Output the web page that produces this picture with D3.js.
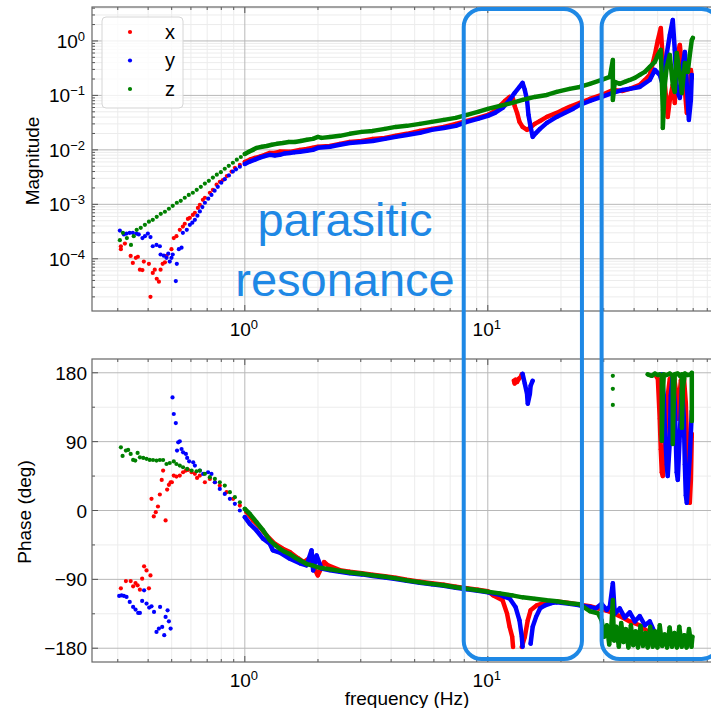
<html>
<head>
<title>Transfer function</title>
<script src="https://d3js.org/d3.v7.min.js"></script>
<style>
body { margin: 0; background: #fff; }
text { font-family: "Liberation Sans", Arial, sans-serif; fill: #000; }
</style>
</head>
<body>
<script>
// values, [frequency (Hz), value]
var magX = [[0.309,1.7e-4],[0.309,1.5e-4],[0.321,1.9e-4],[0.339,1.13e-4],[0.346,8.4e-5],[0.356,1.04e-4],[0.363,1.09e-4],[0.370,6.3e-5],[0.379,6.2e-5],[0.384,8.9e-5],[0.403,8.1e-5],[0.409,2.0e-5],[0.418,5.5e-5],[0.426,6.3e-5],[0.434,4.3e-5],[0.443,3.8e-5],[0.450,6.3e-5],[0.459,8.1e-5],[0.469,8.6e-5],[0.476,1.13e-4],[0.499,1.5e-4],[0.510,2.4e-4],[0.523,2.6e-4],[0.540,3.4e-4],[0.556,3.9e-4],[0.566,4.4e-4],[0.583,5.4e-4],[0.594,5.65e-4],[0.611,6.4e-4],[0.623,7.0e-4],[0.641,8.6e-4],[0.653,9.8e-4],[0.672,1.21e-3],[0.685,1.32e-3],[0.718,1.63e-3],[0.739,1.85e-3],[0.765,2.3e-3],[0.789,2.6e-3],[0.812,2.8e-3],[0.843,3.3e-3],[0.882,4.0e-3],[0.910,4.7e-3],[0.954,5.3e-3],[1.0,6.0e-3],[1.048,6.6e-3],[1.10,7.1e-3],[1.153,7.5e-3],[1.209,8.1e-3],[1.267,8.8e-3],[1.329,8.8e-3],[1.393,9.3e-3],[1.532,9.2e-3],[1.684,0.0100],[1.80,0.0104],[1.905,0.0109],[2.0,0.0114],[2.24,0.0118],[2.46,0.0129],[2.70,0.0140],[3.03,0.0146],[3.36,0.0159],[3.77,0.0166],[4.18,0.0181],[4.64,0.0197],[5.25,0.0223],[5.88,0.0243],[6.59,0.0264],[7.38,0.030],[8.2,0.034],[9.1,0.0387],[10.0,0.0439],[10.7,0.052],[11.2,0.064],[11.75,0.079],[12.3,0.094],[12.7,0.086],[12.9,0.064],[13.2,0.0477],[13.5,0.0327],[13.9,0.0264],[14.5,0.0233],[14.9,0.0253],[15.6,0.030],[16.4,0.034],[17.5,0.0403],[19.2,0.0477],[20.4,0.0542],[21.7,0.0615],[23.9,0.0728],[26.3,0.086],[29.4,0.102],[32.7,0.126],[35.9,0.121],[38.4,0.132],[42.2,0.156],[44.3,0.192],[46.4,0.238],[48.7,0.554],[50.1,1.04],[51.5,1.73],[52.5,0.448],[54.0,0.102],[55.0,0.0403],[56.1,0.0827],[57.7,0.156],[58.8,0.0728],[60.5,0.602],[61.7,0.845],[63.5,0.218],[64.7,0.126],[65.9,0.0477],[67.2,0.0827],[68.5,0.294],[69.1,0.21]];

var magY = [[0.306,3.3e-4],[0.318,2.8e-4],[0.326,2.9e-4],[0.336,3.0e-4],[0.346,3.0e-4],[0.358,2.9e-4],[0.366,2.8e-4],[0.379,2.4e-4],[0.388,2.6e-4],[0.399,2.9e-4],[0.409,2.5e-4],[0.418,1.7e-4],[0.433,1.8e-4],[0.447,1.7e-4],[0.450,1.2e-4],[0.464,1.14e-4],[0.476,1.04e-4],[0.484,1.24e-4],[0.491,8.9e-5],[0.499,1.04e-4],[0.505,1.2e-4],[0.520,3.9e-5],[0.525,8.1e-5],[0.535,1.5e-4],[0.549,1.6e-4],[0.556,3.0e-4],[0.577,3.4e-4],[0.594,4.2e-4],[0.608,4.6e-4],[0.623,5.2e-4],[0.638,6.2e-4],[0.653,7.4e-4],[0.669,8.9e-4],[0.685,1.07e-3],[0.707,1.27e-3],[0.729,1.49e-3],[0.751,1.78e-3],[0.774,2.1e-3],[0.800,2.5e-3],[0.827,2.9e-3],[0.860,3.4e-3],[0.893,4.0e-3],[0.920,4.4e-3],[0.954,4.9e-3],[1.0,5.5e-3],[1.048,6.1e-3],[1.10,6.6e-3],[1.153,7.2e-3],[1.209,7.7e-3],[1.267,8.1e-3],[1.329,7.9e-3],[1.393,8.1e-3],[1.46,8.6e-3],[1.532,8.8e-3],[1.60,9.0e-3],[1.684,9.2e-3],[1.80,9.6e-3],[1.905,0.0100],[2.0,0.0109],[2.24,0.0114],[2.46,0.0124],[2.70,0.0134],[3.03,0.0140],[3.36,0.0146],[3.77,0.0159],[4.18,0.0173],[4.64,0.0188],[5.25,0.0205],[5.88,0.0233],[6.59,0.0253],[7.38,0.0276],[8.2,0.0327],[9.1,0.037],[10.0,0.042],[10.7,0.0477],[11.5,0.059],[12.3,0.0827],[12.9,0.111],[13.5,0.143],[13.9,0.170],[14.2,0.126],[14.5,0.0827],[14.7,0.0439],[15.0,0.0264],[15.3,0.0173],[15.8,0.0205],[16.4,0.0243],[17.5,0.0313],[19.2,0.0403],[20.7,0.0477],[22.4,0.0565],[23.9,0.0669],[26.3,0.079],[29.4,0.0938],[32.7,0.111],[35.9,0.126],[38.4,0.132],[42.2,0.143],[46.4,0.192],[48.7,0.294],[51.0,0.238],[52.5,0.156],[54.0,0.448],[56.1,1.29],[57.7,2.43],[58.8,0.684],[59.9,0.126],[61.7,0.09],[63.5,0.363],[64.7,0.628],[65.9,0.156],[67.2,0.0355],[68.5,0.0827],[69.1,0.238]];

var magZ = [[0.306,2.2e-4],[0.315,3.0e-4],[0.327,2.4e-4],[0.340,1.8e-4],[0.349,2.6e-4],[0.359,3.4e-4],[0.373,3.7e-4],[0.388,4.2e-4],[0.403,4.8e-4],[0.418,5.2e-4],[0.434,5.9e-4],[0.451,6.7e-4],[0.469,7.3e-4],[0.487,8.3e-4],[0.505,9.4e-4],[0.525,1.07e-3],[0.545,1.16e-3],[0.566,1.32e-3],[0.588,1.49e-3],[0.611,1.63e-3],[0.634,1.85e-3],[0.659,2.1e-3],[0.685,2.4e-3],[0.711,2.7e-3],[0.739,3.1e-3],[0.767,3.5e-3],[0.797,3.9e-3],[0.827,4.5e-3],[0.859,5.1e-3],[0.893,5.8e-3],[0.927,6.6e-3],[0.963,7.4e-3],[1.0,8.4e-3],[1.039,9.2e-3],[1.079,0.0100],[1.12,0.0109],[1.175,0.0114],[1.232,0.0118],[1.29,0.0124],[1.354,0.0129],[1.434,0.0134],[1.517,0.0140],[1.606,0.0140],[1.70,0.0146],[1.80,0.0153],[1.905,0.0159],[2.0,0.0173],[2.07,0.0166],[2.24,0.0173],[2.46,0.0181],[2.70,0.0197],[3.03,0.0214],[3.36,0.0223],[3.77,0.0243],[4.18,0.0264],[4.64,0.0276],[5.25,0.030],[5.88,0.0327],[6.59,0.0355],[7.38,0.0387],[8.20,0.0439],[9.10,0.0498],[10.0,0.0565],[11.2,0.0642],[12.6,0.0728],[13.9,0.0827],[15.6,0.0938],[17.5,0.102],[19.2,0.116],[21.7,0.132],[23.9,0.143],[26.3,0.163],[29.4,0.192],[31.8,0.218],[32.7,0.448],[32.7,0.0827],[33.3,0.177],[34.9,0.163],[36.6,0.177],[38.4,0.192],[40.3,0.21],[42.2,0.238],[44.3,0.27],[46.4,0.333],[48.7,0.412],[50.1,0.554],[51.5,0.684],[52.0,0.192],[52.5,0.0542],[52.5,0.0253],[53.5,0.156],[54.5,0.333],[56.1,0.554],[57.7,0.156],[58.8,0.116],[59.9,0.602],[61.7,0.238],[62.9,0.111],[64.7,0.395],[66.5,0.27],[67.8,0.554],[69.1,1.04],[69.8,1.135]];

var phaseX = [[0.309,-101.7],[0.324,-92.2],[0.339,-92.2],[0.347,-99.1],[0.355,-94.8],[0.362,-97.8],[0.370,-103.5],[0.378,-89.1],[0.385,-73],[0.394,-78.3],[0.403,-101.7],[0.409,-84.8],[0.413,15.2],[0.422,-7.8],[0.430,-2.2],[0.439,5.2],[0.447,20.9],[0.455,40],[0.461,52.2],[0.472,-13],[0.479,27.4],[0.487,33.5],[0.495,36.9],[0.501,36.9],[0.510,45.7],[0.523,44.3],[0.540,45.7],[0.557,50],[0.572,52.2],[0.584,53],[0.604,50],[0.623,47.9],[0.636,42.6],[0.653,45.7],[0.685,36.9],[0.718,41.3],[0.753,36.9],[0.789,32.6],[0.841,23.9],[0.895,15.2],[0.954,6.5],[1.016,-2.2],[1.082,-13],[1.153,-21.7],[1.228,-32.6],[1.329,-43.5],[1.434,-50],[1.532,-54.4],[1.65,-62],[1.75,-67.4],[1.85,-62],[1.905,-72],[1.997,-84.8],[2.12,-67.4],[2.20,-71.7],[2.46,-78],[2.70,-80],[3.03,-82],[3.36,-84],[3.77,-86],[4.18,-88],[4.64,-90.5],[5.25,-93],[5.88,-95],[6.59,-97],[7.38,-99.5],[8.2,-101.5],[9.1,-103.5],[10.0,-105.5],[10.5,-110.9],[11.5,-117.4],[12.0,-134.8],[12.3,-152.2],[12.6,-165],[12.7,-178.3],[12.8,169.6],[12.9,166],[13.0,171],[13.2,168],[13.4,172],[13.7,175],[13.8,178],[13.8,-178.3],[14.2,-165.2],[14.6,-143.5],[15.0,-130.4],[15.9,-123.9],[16.7,-121.7],[18.0,-120],[19.2,-119],[21.7,-121],[23.9,-123],[26.3,-125],[28.4,-128],[30.9,-131],[32.7,-134],[34.9,-138],[38.4,-145],[42.2,-150],[46.4,-160]];
var phaseXTop = [[48.7,178],[50.1,172],[51.0,120],[51.5,80],[52.0,50],[52.5,45],[53.5,70],[54.0,110],[55.0,150],[56.1,172],[58.3,176],[59.9,150],[60.5,120],[61.1,140],[62.3,170],[64.1,175],[65.3,140],[65.9,100],[66.5,60],[67.2,25],[67.8,10],[68.5,40],[69.1,100]];

var phaseY = [[0.304,-111.7],[0.311,-110.9],[0.318,-111.7],[0.326,-113],[0.336,-119.5],[0.347,-126],[0.355,-129.5],[0.364,-133.9],[0.370,-133.9],[0.378,-118.2],[0.385,-104.3],[0.394,-121.7],[0.404,-126.9],[0.413,-125.2],[0.423,-132.6],[0.433,-158.7],[0.443,-154.3],[0.448,-126],[0.457,-152.2],[0.466,-163],[0.472,-139.1],[0.481,-130.4],[0.487,-144.8],[0.495,-154.3],[0.504,147.8],[0.510,126.1],[0.520,114.3],[0.526,78.3],[0.532,89.1],[0.540,90.4],[0.549,80.4],[0.557,76],[0.572,73.9],[0.579,68.7],[0.590,64.3],[0.613,62.9],[0.623,58.7],[0.653,52.2],[0.674,47.8],[0.706,50],[0.729,47.8],[0.753,36.9],[0.789,28.2],[0.827,21.7],[0.868,15.2],[0.910,8.7],[0.954,0],[1.0,-8.7],[1.048,-17.4],[1.117,-26.1],[1.19,-37],[1.267,-43.5],[1.304,-52],[1.393,-55],[1.532,-63],[1.684,-69],[1.794,-71.7],[1.882,-52],[1.91,-78.3],[1.973,-58.7],[2.07,-76],[2.24,-78],[2.46,-80],[2.70,-82],[3.03,-83.5],[3.36,-85.5],[3.77,-87.5],[4.18,-89.5],[4.64,-92],[5.25,-94.5],[5.88,-96.5],[6.59,-98.5],[7.38,-101],[8.2,-103],[9.1,-105],[10.0,-107],[11.2,-110],[11.75,-113],[12.3,-115],[13.0,-126],[13.5,-143.5],[13.8,-165],[13.9,-178],[13.9,178.7],[14.2,165.6],[14.5,152.6],[14.6,139.6],[14.9,152.6],[15.0,163],[15.3,169.6],[15.0,-174],[15.3,-152],[15.8,-139],[16.4,-128],[17.2,-124],[18.3,-121],[19.2,-120],[21.7,-122],[23.9,-124],[26.3,-126],[27.8,-128],[29.4,-122],[30.9,-130],[31.8,-125],[32.7,-95],[33.3,-135],[34.9,-128],[36.6,-140],[38.4,-133],[40.3,-145],[42.2,-138],[44.3,-150],[46.4,-145],[48.7,-160],[51.0,-165]];
var phaseYTop = [[52.0,178],[53.0,150],[53.5,110],[54.5,60],[55.0,45],[56.1,90],[56.6,150],[57.7,176],[58.8,140],[59.4,90],[59.9,50],[60.5,40],[61.7,100],[62.9,160],[64.1,120],[64.7,60],[65.3,20],[65.9,10],[66.5,30],[67.8,70],[69.1,130]];

var phaseZ = [[0.309,82.6],[0.314,71.3],[0.324,78.3],[0.331,79.2],[0.339,74],[0.347,66.1],[0.354,65.2],[0.362,75.3],[0.370,69.5],[0.382,68.7],[0.394,67.5],[0.406,66.1],[0.419,66],[0.433,65.2],[0.447,66],[0.461,66],[0.476,60.8],[0.491,62.1],[0.510,64.2],[0.523,60.8],[0.540,58.7],[0.557,56.5],[0.579,54.4],[0.604,52.2],[0.633,51.3],[0.653,52.2],[0.685,47.9],[0.718,43.5],[0.753,41.4],[0.789,36.9],[0.827,32.6],[0.868,23.9],[0.910,17.4],[0.954,10.8],[1.0,2.2],[1.048,-4.3],[1.117,-15.2],[1.19,-26.1],[1.267,-39],[1.33,-45],[1.393,-50],[1.46,-54],[1.532,-57],[1.60,-61],[1.684,-65],[1.80,-70],[1.905,-72],[2.0,-74.3],[2.24,-76.9],[2.46,-78.9],[2.70,-80.9],[3.03,-82.8],[3.36,-84.8],[3.77,-86.7],[4.18,-88.7],[4.64,-91.3],[5.25,-93.9],[5.88,-95.9],[6.59,-97.8],[7.38,-100.4],[8.2,-102.4],[9.1,-104.3],[10.0,-106.3],[11.2,-108.3],[12.6,-110.9],[13.9,-113.5],[15.6,-115.4],[17.5,-117.4],[19.2,-118.7],[21.7,-121.3],[23.9,-122.6],[26.3,-131.7],[28.4,-134.3],[29.4,-143.5],[30.1,-165],[30.9,-150],[31.6,-175],[32.3,-148],[32.7,-117],[32.7,-126],[33.1,-170],[33.8,-152],[34.6,-178],[35.4,-147],[36.2,-172],[37.0,-155],[37.9,-179],[38.8,-150],[39.7,-176],[40.6,-158],[41.5,-179],[42.5,-151],[43.5,-177],[44.5,-160],[45.5,-179],[46.6,-152],[47.7,-178],[48.8,-158],[49.9,-179],[51.0,-150],[52.2,-177],[53.4,-162],[54.7,-179],[56.0,-153],[57.3,-178],[58.6,-160],[60.0,-179],[61.4,-152],[62.8,-178],[64.3,-163],[65.8,-179],[67.3,-155],[68.9,-178],[69.5,-165]];
var phaseZTop = [[32.7,176],[32.7,159],[32.7,138],[45.5,178],[47.3,176],[48.7,179],[50.1,177],[51.0,178],[52.0,176],[52.0,91],[52.5,150],[53.0,178],[54.5,177],[56.1,179],[57.7,176],[57.7,87],[58.3,150],[58.8,178],[60.5,179],[61.7,176],[62.9,178],[62.9,108],[63.5,160],[64.7,179],[66.5,177],[68.5,178],[69.1,180],[69.1,117]];

var seriesNames = ["x", "y", "z"];
var colors = {x: "#ff0000", y: "#0000ff", z: "#008000"};
var phaseTicks = [-180, -90, 0, 90, 180];
var phaseMinor = [-135, -45, 45, 135];
var magTicks = [1e-4, 1e-3, 1e-2, 1e-1, 1];
var freqTicks = [1, 10];
// annotation boxes, frequency span
var boxes = [[7.96, 24.4], [29.4, 90]];

var width = 711, height = 708;
var left = 92, right = 722;
var magTop = 7, magBottom = 311;
var phTop = 359, phBottom = 662;
var bandFrom = 1.0;   // above this the points are so dense they form a band

var x = d3.scaleLog().domain([0.235, 92]).range([left, right]);
var yMag = d3.scaleLog().domain([1.1e-5, 4.2]).range([magBottom, magTop]);
var yPh = d3.scaleLinear().domain([-198, 198]).range([phBottom, phTop]);

var svg = d3.select('body').append('svg')
  .attr('width', width).attr('height', height);

var defs = svg.append('defs');
defs.append('clipPath').attr('id', 'clipMag').append('rect')
  .attr('x', left).attr('y', magTop).attr('width', right - left).attr('height', magBottom - magTop);
defs.append('clipPath').attr('id', 'clipPh').append('rect')
  .attr('x', left).attr('y', phTop).attr('width', right - left).attr('height', phBottom - phTop);

var minorX = x.ticks().filter(function(d) { return freqTicks.indexOf(d) < 0; });
var minorMag = yMag.ticks().filter(function(d) { return magTicks.indexOf(d) < 0; });

function grid(g, y0, y1, yScale, major, minor) {
  g.selectAll('line.vminor').data(minorX).enter().append('line')
    .attr('x1', x).attr('x2', x).attr('y1', y0).attr('y2', y1)
    .attr('stroke', '#ececec').attr('stroke-width', 1);
  g.selectAll('line.hminor').data(minor).enter().append('line')
    .attr('x1', left).attr('x2', right).attr('y1', yScale).attr('y2', yScale)
    .attr('stroke', '#ececec').attr('stroke-width', 1);
  g.selectAll('line.vmajor').data(freqTicks).enter().append('line')
    .attr('x1', x).attr('x2', x).attr('y1', y0).attr('y2', y1)
    .attr('stroke', '#b8b8b8').attr('stroke-width', 1);
  g.selectAll('line.hmajor').data(major).enter().append('line')
    .attr('x1', left).attr('x2', right).attr('y1', yScale).attr('y2', yScale)
    .attr('stroke', '#b8b8b8').attr('stroke-width', 1);
}

function frame(g, y0, y1, yScale, major, minor) {
  // ticks point inwards on every side
  freqTicks.concat(minorX).forEach(function(d) {
    var len = freqTicks.indexOf(d) >= 0 ? 6 : 3;
    g.append('line').attr('x1', x(d)).attr('x2', x(d)).attr('y1', y1).attr('y2', y1 - len)
      .attr('stroke', '#555');
    g.append('line').attr('x1', x(d)).attr('x2', x(d)).attr('y1', y0).attr('y2', y0 + len)
      .attr('stroke', '#555');
  });
  major.concat(minor).forEach(function(d) {
    var len = major.indexOf(d) >= 0 ? 6 : 3;
    g.append('line').attr('x1', left).attr('x2', left + len).attr('y1', yScale(d)).attr('y2', yScale(d))
      .attr('stroke', '#555');
  });
  g.append('rect').attr('x', left).attr('y', y0).attr('width', right - left).attr('height', y1 - y0)
    .attr('fill', 'none').attr('stroke', '#666').attr('stroke-width', 1.2);
}

function drawSeries(g, data, yScale, color, wrap) {
  // split the dense part where the phase wraps or the data has a gap
  var segs = [], cur = [];
  data.forEach(function(d) {
    if (d[0] < bandFrom) return;
    var p = cur[cur.length - 1];
    if (p && ((wrap && Math.abs(d[1] - p[1]) > 150) || d[0] / p[0] > 1.2)) {
      segs.push(cur);
      cur = [];
    }
    cur.push(d);
  });
  if (cur.length) segs.push(cur);
  // short runs stay as separate dots
  segs = segs.filter(function(s) { return s.length > 3; });

  var line = d3.line()
    .x(function(d) { return x(d[0]); })
    .y(function(d) { return yScale(d[1]); });

  g.selectAll(null).data(segs).enter().append('path')
    .attr('d', line)
    .attr('fill', 'none')
    .attr('stroke', color)
    .attr('stroke-width', 4.5)
    .attr('stroke-linejoin', 'round')
    .attr('stroke-linecap', 'round');

  g.selectAll(null).data(data).enter().append('circle')
    .attr('cx', function(d) { return x(d[0]); })
    .attr('cy', function(d) { return yScale(d[1]); })
    .attr('r', 2.1)
    .attr('fill', color);
}

function sup(sel, base, exp) {
  sel.append('tspan').text(base);
  sel.append('tspan').attr('dy', -7).attr('font-size', 13).text(exp);
}

function expLabel(d) {
  var e = Math.round(Math.log10(d));
  return e < 0 ? '\u2212' + (-e) : '' + e;
}

// magnitude panel
var gMag = svg.append('g');
grid(gMag, magTop, magBottom, yMag, magTicks, minorMag);
var dMag = gMag.append('g').attr('clip-path', 'url(#clipMag)');
drawSeries(dMag, magX, yMag, colors.x, false);
drawSeries(dMag, magY, yMag, colors.y, false);
drawSeries(dMag, magZ, yMag, colors.z, false);
frame(gMag, magTop, magBottom, yMag, magTicks, minorMag);

// phase panel
var gPh = svg.append('g');
grid(gPh, phTop, phBottom, yPh, phaseTicks, phaseMinor);
var dPh = gPh.append('g').attr('clip-path', 'url(#clipPh)');
drawSeries(dPh, phaseX, yPh, colors.x, true);
drawSeries(dPh, phaseXTop, yPh, colors.x, true);
drawSeries(dPh, phaseY, yPh, colors.y, true);
drawSeries(dPh, phaseYTop, yPh, colors.y, true);
drawSeries(dPh, phaseZ, yPh, colors.z, true);
drawSeries(dPh, phaseZTop, yPh, colors.z, true);
frame(gPh, phTop, phBottom, yPh, phaseTicks, phaseMinor);

// tick labels
magTicks.forEach(function(d) {
  var t = svg.append('text').attr('x', 85).attr('y', yMag(d) + 7)
    .attr('text-anchor', 'end').attr('font-size', 19);
  sup(t, '10', expLabel(d));
});
phaseTicks.forEach(function(d) {
  svg.append('text').attr('x', 87).attr('y', yPh(d) + 7)
    .attr('text-anchor', 'end').attr('font-size', 19)
    .text(d < 0 ? '\u2212' + (-d) : d);
});
[magBottom, phBottom].forEach(function(yb) {
  freqTicks.forEach(function(d) {
    var t = svg.append('text').attr('x', x(d) - 1).attr('y', yb + 25)
      .attr('text-anchor', 'middle').attr('font-size', 19);
    sup(t, '10', expLabel(d));
  });
});

// axis labels
svg.append('text').attr('transform', 'translate(39,161) rotate(-90)')
  .attr('text-anchor', 'middle').attr('font-size', 19).text('Magnitude');
svg.append('text').attr('transform', 'translate(31,512) rotate(-90)')
  .attr('text-anchor', 'middle').attr('font-size', 19).text('Phase (deg)');
svg.append('text').attr('x', 407).attr('y', 705)
  .attr('text-anchor', 'middle').attr('font-size', 19).text('frequency (Hz)');

// legend
var leg = svg.append('g');
leg.append('rect').attr('x', 102).attr('y', 17).attr('width', 81).attr('height', 91).attr('rx', 4)
  .attr('fill', '#fff').attr('fill-opacity', 0.8).attr('stroke', '#d6d6d6');
seriesNames.forEach(function(k, i) {
  var yy = 32 + i * 28.5;
  leg.append('circle').attr('cx', 130).attr('cy', yy).attr('r', 2.1).attr('fill', colors[k]);
  leg.append('text').attr('x', 165).attr('y', yy + 6.5).attr('font-size', 20).text(k);
});

// annotation
var blue = '#1e88e5';
svg.selectAll('rect.box').data(boxes).enter().append('rect')
  .attr('x', function(d) { return x(d[0]); })
  .attr('width', function(d) { return x(d[1]) - x(d[0]); })
  .attr('y', 9).attr('height', 650).attr('rx', 18)
  .attr('fill', 'none').attr('stroke', blue).attr('stroke-width', 4);
svg.append('text').attr('x', 345).attr('y', 236).attr('text-anchor', 'middle')
  .attr('font-size', 47).style('fill', blue).text('parasitic');
svg.append('text').attr('x', 345).attr('y', 296).attr('text-anchor', 'middle')
  .attr('font-size', 47).style('fill', blue).text('resonance');
</script>
</body>
</html>
